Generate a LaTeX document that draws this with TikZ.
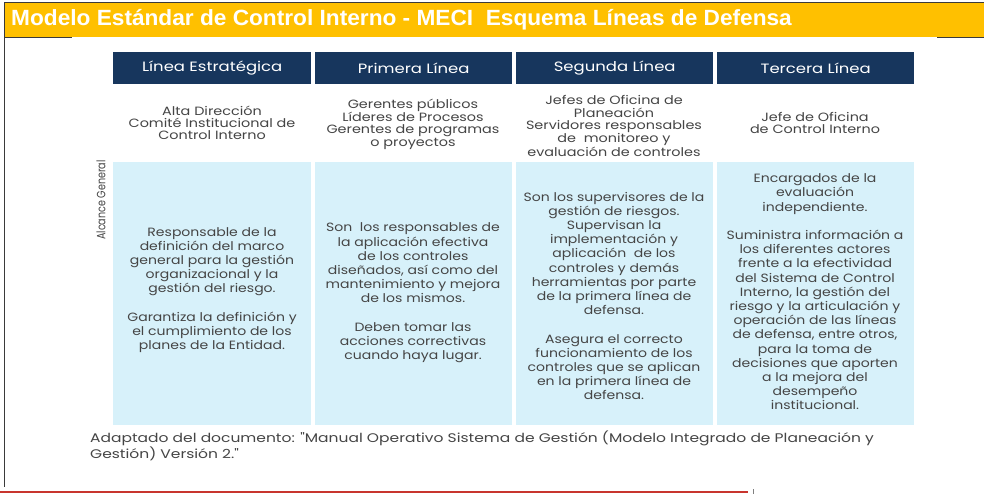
\documentclass[tikz,border=0pt]{standalone}
\usepackage{fontspec}
\setmainfont{Poppins}
\newfontfamily\titlefont[FakeStretch=1.03]{Liberation Sans}
\newfontfamily\hdrfont[FakeStretch=1.22]{Poppins}
\newfontfamily\bodyfont[FakeStretch=1.17]{Poppins}
\newfontfamily\whofont[FakeStretch=1.2]{Poppins}
\newfontfamily\fnfont[FakeStretch=1.24]{Poppins}
\newfontfamily\agfont[FakeStretch=0.8]{Poppins}
\definecolor{yel}{HTML}{FFC000}
\definecolor{frame}{HTML}{3A3A3A}
\definecolor{navy}{HTML}{17365D}
\definecolor{lblue}{HTML}{D7F1FA}
\definecolor{txtgray}{HTML}{454545}
\definecolor{redline}{HTML}{C8352E}
\begin{document}
\begin{tikzpicture}[x=1pt,y=-1pt,
  hdr/.style={fill=navy, text=white, font=\hdrfont\fontsize{13.5}{15}\selectfont,
    inner sep=0pt, minimum height=32pt, anchor=north west},
  who/.style={text=txtgray, align=center, inner sep=0pt,
    font=\whofont\fontsize{12}{12.2}\selectfont},
  bodycell/.style={fill=lblue, inner sep=0pt, minimum height=263pt, anchor=north west},
  bodytxt/.style={text=txtgray, align=center, inner sep=0pt,
    font=\bodyfont\fontsize{12}{14.2}\selectfont},
  ]
\useasboundingbox (0,0) rectangle (984,495);
\fill[white] (0,0) rectangle (984,495);
% title bar
\fill[yel] (4,3) rectangle (984,37);
\draw[frame, line width=1pt] (4,3) -- (984,3);
\draw[frame, line width=1pt] (4.5,3) -- (4.5,487);
\draw[frame, line width=1pt] (4,38) -- (72,38);
\draw[frame, line width=1pt] (937,38) -- (984,38);
\node[anchor=west, text=white, inner sep=0pt,
  font=\titlefont\bfseries\fontsize{22}{22}\selectfont] (title) at (11,20)
  {Modelo Estándar de Control Interno - MECI\ \ Esquema Líneas de Defensa};
% headers
\node[hdr, minimum width=198pt] (h1) at (113,52) {Línea Estratégica};
\node[hdr, minimum width=197pt] (h2) at (315,52) {Primera Línea};
\node[hdr, minimum width=197pt] (h3) at (516,52) {Segunda Línea};
\node[hdr, minimum width=197pt] (h4) at (717,52) {Tercera Línea};
% second row
\node[who] (r1) at (212,123) {Alta Dirección\\Comité Institucional de\\Control Interno};
\node[who] (r2) at (413,124) {Gerentes públicos\\Líderes de Procesos\\Gerentes de programas\\o proyectos};
\node[who] (r3) at (614,126) {Jefes de Oficina de\\Planeación\\Servidores responsables\\de\ \ monitoreo y\\evaluación de controles};
\node[who] (r4) at (815,123) {Jefe de Oficina\\de Control Interno};
% body cells
\node[bodycell, minimum width=198pt] (b1) at (113,162) {};
\node[bodycell, minimum width=197pt] (b2) at (315,162) {};
\node[bodycell, minimum width=197pt] (b3) at (516,162) {};
\node[bodycell, minimum width=197pt] (b4) at (717,162) {};
\node[bodytxt] (t1) at (212,290) {Responsable de la\\definición del marco\\general para la gestión\\organizacional y la\\gestión del riesgo.\\[14.2pt]Garantiza la definición y\\el cumplimiento de los\\planes de la Entidad.};
\node[bodytxt] (t2) at (413,293) {Son\ \ los responsables de\\la aplicación efectiva\\de los controles\\diseñados, así como del\\mantenimiento y mejora\\de los mismos.\\[14.2pt]Deben tomar las\\acciones correctivas\\cuando haya lugar.};
\node[bodytxt] (t3) at (614,296) {Son los supervisores de la\\gestión de riesgos.\\Supervisan la\\implementación y\\aplicación\ \ de los\\controles y demás\\herramientas por parte\\de la primera línea de\\defensa.\\[14.2pt]Asegura el correcto\\funcionamiento de los\\controles que se aplican\\en la primera línea de\\defensa.};
\node[bodytxt] (t4) at (815,292) {Encargados de la\\evaluación\\independiente.\\[14.2pt]Suministra información a\\los diferentes actores\\frente a la efectividad\\del Sistema de Control\\Interno, la gestión del\\riesgo y la articulación y\\operación de las líneas\\de defensa, entre otros,\\para la toma de\\decisiones que aporten\\a la mejora del\\desempeño\\institucional.};
\node[rotate=90, text=txtgray, inner sep=0pt, font=\agfont\fontsize{12}{12}\selectfont] (ag) at (101,200) {Alcance General};
% footnote
\node[anchor=north west, align=left, text=txtgray, inner sep=0pt,
  font=\fnfont\fontsize{12.5}{15}\selectfont] (fn) at (90,431)
  {Adaptado del documento: "Manual Operativo Sistema de Gestión (Modelo Integrado de Planeación y\\Gestión) Versión 2."};
% bottom rule
\draw[redline, line width=2pt] (0,492) -- (748,492);
\draw[gray, line width=0.8pt] (753,489) -- (753,494);
\end{tikzpicture}
\end{document}
